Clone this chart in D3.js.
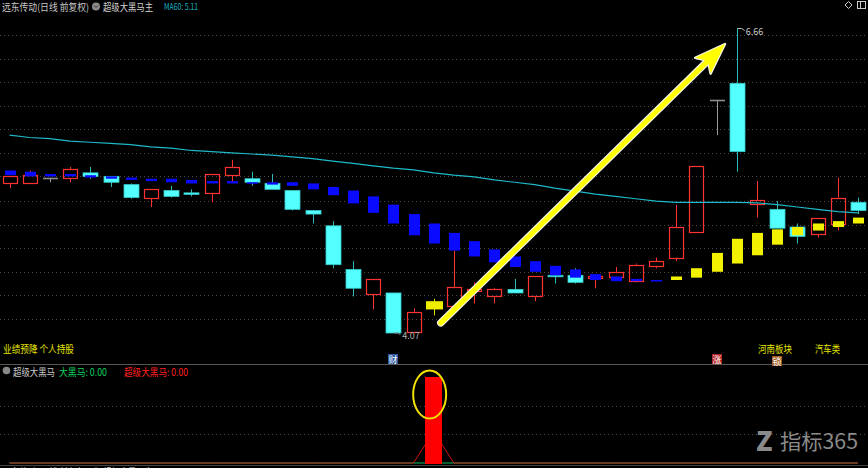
<!DOCTYPE html>
<html><head><meta charset="utf-8">
<script src="https://cdn.jsdelivr.net/npm/d3@7"></script>
<style>
html,body{margin:0;padding:0;background:#000;overflow:hidden}
svg{display:block}
text{font-family:"Noto Sans CJK SC","Noto Sans",sans-serif}
</style></head><body>
<svg id="c" width="868" height="468"></svg>
<script>
// ---------- data ----------
const opens  = [5.34,5.34,5.39,5.38,5.43,5.40,5.33,5.21,5.28,5.26,5.26,5.41,5.38,5.34,5.28,5.11,4.98,4.61,4.40,4.41,4.08,4.27,4.30,4.42,4.38,4.44,4.38,4.56,4.56,4.53,4.55,4.51,4.64,4.71,4.93,6.05,6.19,5.17,5.12,4.97,4.91,5.00,5.18];
const highs  = [5.40,5.45,5.39,5.48,5.48,5.40,5.34,5.29,5.32,5.29,5.42,5.54,5.44,5.42,5.28,5.11,5.02,4.68,4.53,4.41,4.28,4.36,4.77,4.50,4.45,4.53,4.55,4.64,4.62,4.55,4.63,4.66,4.71,5.16,5.49,6.05,6.66,5.36,5.19,5.00,5.05,5.39,5.22];
const lows   = [5.30,5.34,5.35,5.35,5.38,5.31,5.21,5.14,5.22,5.23,5.18,5.35,5.32,5.29,5.11,5.00,4.62,4.38,4.27,4.07,4.07,4.22,4.30,4.32,4.32,4.41,4.34,4.49,4.49,4.45,4.55,4.50,4.62,4.68,4.93,5.75,5.44,5.05,4.96,4.83,4.88,4.94,5.08];
const closes = [5.40,5.41,5.39,5.46,5.40,5.35,5.22,5.29,5.23,5.25,5.42,5.48,5.35,5.29,5.12,5.08,4.65,4.45,4.53,4.07,4.25,4.34,4.46,4.44,4.44,4.41,4.55,4.55,4.50,4.55,4.59,4.65,4.68,4.97,5.49,6.05,5.61,5.20,4.96,4.89,5.05,5.22,5.11];
const highlightDays = [21];
const ma60 = [5.75,5.73,5.72,5.70,5.69,5.68,5.67,5.65,5.64,5.62,5.61,5.60,5.59,5.58,5.565,5.55,5.53,5.51,5.49,5.47,5.455,5.43,5.41,5.395,5.37,5.35,5.33,5.30,5.275,5.25,5.23,5.21,5.19,5.18,5.18,5.18,5.18,5.175,5.16,5.14,5.12,5.10,5.09];
const bandTop    = [5.45,5.44,5.42,5.42,5.41,5.40,5.39,5.38,5.38,5.37,5.36,5.36,5.35,5.35,5.35,5.34,5.31,5.28,5.23,5.16,5.08,5.00,4.92,4.85,4.78,4.72,4.68,4.64,4.61,4.57,4.55,4.53,4.52,4.55,4.62,4.75,4.87,4.92,4.95,4.97,5.00,5.02,5.05];
const bandBottom = [5.41,5.40,5.40,5.40,5.39,5.38,5.37,5.36,5.35,5.34,5.34,5.34,5.34,5.33,5.32,5.29,5.24,5.17,5.09,5.00,4.90,4.83,4.77,4.72,4.67,4.63,4.59,4.56,4.54,4.52,4.51,4.51,4.51,4.52,4.54,4.59,4.66,4.73,4.82,4.90,4.94,4.97,5.00];
const bandState  = ["fall","fall","fall","fall","fall","fall","fall","fall","fall","fall","fall","fall","fall","fall","fall","fall","fall","fall","fall","fall","fall","fall","fall","fall","fall","fall","fall","fall","fall","fall","fall","fall","fall","rise","rise","rise","rise","rise","rise","rise","rise","rise","rise"];
const gridPrices = [4.19,4.39,4.59,4.79,4.99,5.19,5.40,5.60,5.80,6.00,6.20,6.40,6.60];
const maxLabel = "6.66", minLabel = "4.07";
const superBar  = d3.range(43).map(i => i === 21 ? 3 : 0);
const superLine = d3.range(43).map(i => i === 21 ? 1.1 : 0);
const darkHorse = d3.range(43).map(() => 0);
const lowerGrid = [1, 2];
const eventDays = [19, 35, 38];
const eventLabels = ["财", "涨", "锁"];
const arrowFrom = [21.35, 4.156], arrowTo = [35.42, 6.524];

// ---------- setup ----------
const W = 868, H = 468;
const svg = d3.select('#c');
svg.append('rect').attr('width', W).attr('height', H).attr('fill', '#000');

const x = d3.scaleLinear().domain([0, 42]).range([9.5, 857.9]);
const y = d3.scaleLinear().domain([4.07, 6.66]).range([333, 28]);
const yl = d3.scaleLinear().domain([0, 3]).range([463, 377]);
const px = v => Math.round(v) + 0.5;

// grid via axes
const gGrid = svg.append('g')
  .call(d3.axisLeft(y).tickValues(gridPrices).tickSize(-W).tickFormat(''));
gGrid.select('.domain').remove();
gGrid.selectAll('line').attr('stroke', '#4a4a4a').attr('stroke-dasharray', '1,3');
gGrid.selectAll('.tick').attr('transform', d => `translate(0,${px(y(d))})`);

const gGridL = svg.append('g')
  .call(d3.axisLeft(yl).tickValues(lowerGrid).tickSize(-W).tickFormat(''));
gGridL.select('.domain').remove();
gGridL.selectAll('line').attr('stroke', '#4a4a4a').attr('stroke-dasharray', '1,3');
gGridL.selectAll('.tick').attr('transform', d => `translate(0,${px(yl(d))})`);

// separators
svg.append('line').attr('x1', 0).attr('x2', W).attr('y1', 364.5).attr('y2', 364.5).attr('stroke', '#555');
svg.append('line').attr('x1', 0).attr('x2', W).attr('y1', 465.5).attr('y2', 465.5).attr('stroke', '#444');

// ---------- candles ----------
const days = d3.range(opens.length).map(i => ({
  i, o: opens[i], h: highs[i], l: lows[i], c: closes[i],
  kind: highlightDays.includes(i) ? 'mark' : closes[i] > opens[i] ? 'up' : closes[i] < opens[i] ? 'down' : 'flat'
}));
const bodyCol = {up: '#ff3232', down: '#54ffff', flat: '#8c8c8c', mark: '#eeee00'};
const wickCol = {up: '#ff3232', down: '#2fb8b8', flat: '#9a9a9a', mark: '#e0e000'};

const gC = svg.append('g');
days.forEach(d => {
  const cx = px(x(d.i));
  const top = y(Math.max(d.o, d.c)), bot = y(Math.min(d.o, d.c));
  const yh = y(d.h), ylw = y(d.l);
  if (d.kind === 'up') {
    if (yh < top) gC.append('line').attr('x1', cx).attr('x2', cx).attr('y1', yh).attr('y2', top).attr('stroke', wickCol.up);
    if (ylw > bot) gC.append('line').attr('x1', cx).attr('x2', cx).attr('y1', bot).attr('y2', ylw).attr('stroke', wickCol.up);
    gC.append('rect').attr('x', cx - 7).attr('y', Math.round(top) + 0.5).attr('width', 14)
      .attr('height', Math.max(1, Math.round(bot - top))).attr('fill', 'none').attr('stroke', bodyCol.up).attr('stroke-width', 1.2);
  } else if (d.kind === 'down') {
    gC.append('line').attr('x1', cx).attr('x2', cx).attr('y1', yh).attr('y2', ylw).attr('stroke', wickCol.down);
    gC.append('rect').attr('x', cx - 7.5).attr('y', top).attr('width', 15)
      .attr('height', Math.max(1.5, bot - top)).attr('fill', bodyCol.down).attr('stroke', '#35c8c8').attr('stroke-width', 0.8);
  } else if (d.kind === 'mark') {
    gC.append('line').attr('x1', cx).attr('x2', cx).attr('y1', yh).attr('y2', ylw).attr('stroke', wickCol.mark);
    gC.append('rect').attr('x', cx - 8.5).attr('y', top).attr('width', 17)
      .attr('height', Math.max(1.5, bot - top)).attr('fill', bodyCol.mark);
  } else {
    gC.append('line').attr('x1', cx).attr('x2', cx).attr('y1', yh).attr('y2', ylw).attr('stroke', wickCol.flat);
    gC.append('line').attr('x1', cx - 7.5).attr('x2', cx + 7.5).attr('y1', px(top)).attr('y2', px(top))
      .attr('stroke', bodyCol.flat).attr('stroke-width', 1.6);
  }
});

// overlay band bars
svg.append('g').selectAll('rect').data(d3.range(bandTop.length)).join('rect')
  .attr('x', i => Math.round(x(i)) - 5)
  .attr('y', i => y(bandTop[i]))
  .attr('width', 11)
  .attr('height', i => Math.max(1.5, y(bandBottom[i]) - y(bandTop[i])))
  .attr('fill', i => bandState[i] === 'rise' ? '#f2f200' : '#0a0aff');

// MA60
svg.append('path').datum(ma60)
  .attr('d', d3.line().x((d, i) => x(i)).y(d => y(d)))
  .attr('fill', 'none').attr('stroke', '#1fb8c8').attr('stroke-width', 1.2);

// max / min labels
const iMax = d3.maxIndex(highs), iMin = d3.minIndex(lows);
svg.append('path').attr('d', `M${x(iMax)+1},${y(highs[iMax])+0.5} h4 l3,2`).attr('stroke', '#bbb').attr('fill', 'none');
svg.append('text').attr('x', x(iMax) + 9).attr('y', y(highs[iMax]) + 7).attr('font-size', 9)
  .attr('font-family', 'DejaVu Sans').attr('fill', '#c8c8c8').text(maxLabel);
svg.append('path').attr('d', `M${x(iMin)+1},${y(lows[iMin])} h4 l2,2`).attr('stroke', '#888').attr('fill', 'none');
svg.append('text').attr('x', x(iMin) + 9).attr('y', y(lows[iMin]) + 6).attr('font-size', 9)
  .attr('font-family', 'DejaVu Sans').attr('fill', '#b0b0b0').text(minLabel);

// arrow annotation
const ax0 = x(arrowFrom[0]), ay0 = y(arrowFrom[1]), ax1 = x(arrowTo[0]), ay1 = y(arrowTo[1]);
const len = Math.hypot(ax1 - ax0, ay1 - ay0), ux = (ax1 - ax0) / len, uy = (ay1 - ay0) / len;
const nx = -uy, ny = ux;
const sx = ax1 - 24 * ux, sy = ay1 - 24 * uy;
const head = [[ax1, ay1], [ax1 - 31 * ux + 11 * nx, ay1 - 31 * uy + 11 * ny], [sx, sy], [ax1 - 31 * ux - 11 * nx, ay1 - 31 * uy - 11 * ny]];
const gA = svg.append('g');
gA.append('line').attr('x1', ax0).attr('y1', ay0).attr('x2', sx + 2 * ux).attr('y2', sy + 2 * uy)
  .attr('stroke', '#f4f4e0').attr('stroke-width', 7.5).attr('stroke-linecap', 'round');
gA.append('polygon').attr('points', head.map(p => p.join(',')).join(' ')).attr('fill', '#f4f4e0')
  .attr('stroke', '#f4f4e0').attr('stroke-width', 2.5).attr('stroke-linejoin', 'round');
gA.append('line').attr('x1', ax0).attr('y1', ay0).attr('x2', sx + 2 * ux).attr('y2', sy + 2 * uy)
  .attr('stroke', '#ffff00').attr('stroke-width', 5).attr('stroke-linecap', 'round');
gA.append('polygon').attr('points', head.map(p => p.join(',')).join(' ')).attr('fill', '#ffff00');

// ---------- lower panel ----------
const lineL = d3.line().x((d, i) => x(i)).y(d => yl(d));
svg.append('path').datum(darkHorse).attr('d', lineL).attr('fill', 'none').attr('stroke', '#00c060');
svg.append('path').datum(superLine).attr('d', lineL).attr('fill', 'none').attr('stroke', '#d01010').attr('stroke-width', 1);
svg.append('g').selectAll('rect').data(d3.range(superBar.length).filter(i => superBar[i] > 0)).join('rect')
  .attr('x', i => Math.round(x(i)) - 9).attr('y', i => yl(superBar[i]))
  .attr('width', 17).attr('height', i => yl(0) - yl(superBar[i]) + 1).attr('fill', '#ff0000');
svg.append('ellipse').attr('cx', x(20.8)).attr('cy', yl(2.39)).attr('rx', 16.5).attr('ry', 24)
  .attr('fill', 'none').attr('stroke', '#f0e000').attr('stroke-width', 2);

// ---------- texts ----------
function t(xp, yp, s, size, fill, tl, fam) {
  const e = svg.append('text').attr('x', xp).attr('y', yp).attr('font-size', size).attr('fill', fill).text(s);
  if (tl) e.attr('textLength', tl).attr('lengthAdjust', 'spacingAndGlyphs');
  if (fam) e.attr('font-family', fam);
  return e;
}
function header(yo) {
  t(2, 11 + yo, '远东传动(日线 前复权)', 10, '#c8c8c8', 87);
  svg.append('circle').attr('cx', 96).attr('cy', 6.5 + yo).attr('r', 4).attr('fill', '#8a8a8a');
  svg.append('path').attr('d', `M94,${5.5 + yo} L96,${7.5 + yo} L98,${5.5 + yo}`).attr('stroke', '#333').attr('fill', 'none');
  t(103, 11 + yo, '超级大黑马主', 10, '#d0d0d0', 50);
  t(164, 9.5 + yo, 'MA60: 5.11', 8.5, '#1ab0c0', 34, 'DejaVu Sans');
}
header(0);
header(465);

// top right icons
svg.append('path').attr('d', 'M848.5,1.5 L852,5 L848.5,8.5 L845,5 Z').attr('fill', 'none').attr('stroke', '#ccc');
svg.append('rect').attr('x', 857.5).attr('y', 1.5).attr('width', 8).attr('height', 7).attr('fill', 'none').attr('stroke', '#ccc');
svg.append('line').attr('x1', 860.5).attr('x2', 860.5).attr('y1', 2).attr('y2', 8).attr('stroke', '#ccc');

// bottom of main panel labels
t(3, 353, '业绩预降 个人持股', 10, '#e6e600', 71);
t(758, 353, '河南板块', 10, '#e6e600', 34);
t(815, 353, '汽车类', 10, '#e6e600', 25);
const evColors = ['#2a58a0', '#b02020', '#a05a20'];
const evDy = [0, 0, 2];
eventDays.forEach((d, k) => {
  const cx = Math.round(x(d));
  svg.append('rect').attr('x', cx - 5).attr('y', 354 + evDy[k]).attr('width', 10).attr('height', 10).attr('fill', evColors[k]);
  t(cx - 4.5, 362.5 + evDy[k], eventLabels[k], 9, '#fff', 9);
});

// lower header
svg.append('circle').attr('cx', 6.5).attr('cy', 370.5).attr('r', 3.8).attr('fill', '#888');
t(13, 376, '超级大黑马', 10, '#c8c8c8', 42);
t(59, 376, '大黑马: 0.00', 10, '#10d060', 48);
t(124, 376, '超级大黑马: 0.00', 10, '#ff2020', 64);

// watermark
svg.append('text').attr('x', 756).attr('y', 451).attr('font-size', 27).attr('font-weight', 900)
  .attr('font-family', 'DejaVu Sans').attr('fill', '#8a8a8a').text('Z');
t(780, 449, '指标365', 21, '#8a8a8a', 78);
</script></body></html>
